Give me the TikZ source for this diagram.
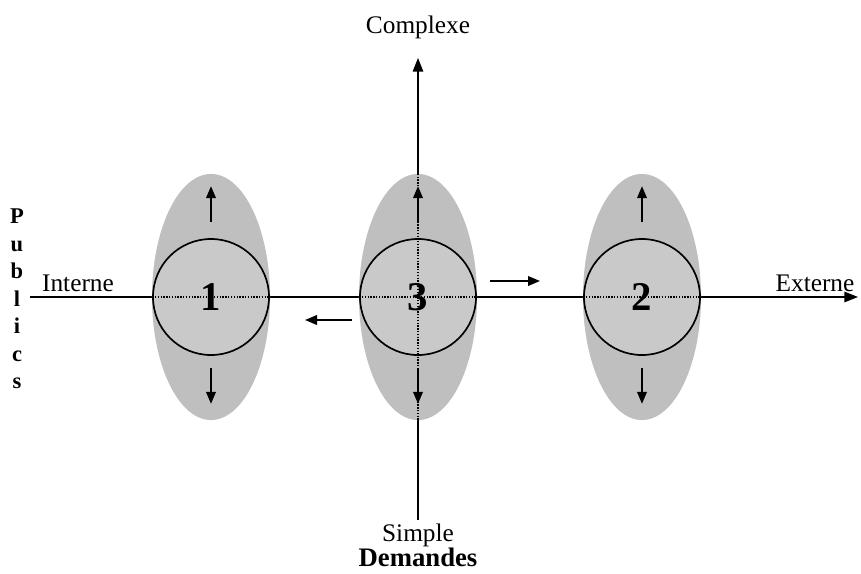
\documentclass[tikz,border=0pt]{standalone}
\usepackage{fontspec}
\setmainfont{Liberation Serif}
\usetikzlibrary{arrows.meta, shapes.geometric}

\begin{document}
\begin{tikzpicture}[
    x=0.025cm, y=-0.025cm,
    zone/.style={ellipse, fill=gray!50, minimum width=2.95cm, minimum height=6.15cm, inner sep=0pt},
    core/.style={circle, draw, line width=1.2pt, fill=gray!42, minimum size=2.9cm, inner sep=0pt},
    digit/.style={font=\fontsize{29}{30}\selectfont\bfseries},
    axis/.style={-{Triangle[length=3.4mm, width=2.6mm]}, line width=1pt},
    dots/.style={densely dotted, line width=1pt},
    move/.style={-{Triangle[length=3mm, width=2.4mm]}, line width=1.3pt},
    every node/.style={font=\fontsize{18}{20}\selectfont}
]
\useasboundingbox (0,0) rectangle (861,573);

% Axes
\coordinate (west) at (30,297);
\coordinate (east) at (858,297);
\coordinate (south) at (418,520);
\coordinate (north) at (418,58);
\draw[axis] (west) -- (east);
\draw[axis] (south) -- (north);

% Zones
\node[zone] (z1) at (211,297) {};
\node[zone] (z3) at (418,297) {};
\node[zone] (z2) at (642,297) {};

\draw[dots] (z3.north) -- (z3.south);

\node[core] (c1) at (z1) {};
\node[core] (c3) at (z3) {};
\node[core] (c2) at (z2) {};

\draw[dots] (c1.west) -- (c1.east);
\draw[dots] (c3.west) -- (c3.east);
\draw[dots] (c2.west) -- (c2.east);
\draw[dots] (c3.north) -- (c3.south);

\node[digit] (n1) at (c1) {1};
\node[digit] (n3) at (c3) {3};
\node[digit] (n2) at (c2) {2};

% Spread arrows
\foreach \z in {1,3,2} {
  \draw[move] (c\z.north) ++(0,-16) coordinate (up\z) -- ++(0,-36);
  \draw[move] (c\z.south) ++(0,12) coordinate (dn\z) -- ++(0,36);
}

% Shift arrows
\coordinate (rgt) at (490,281);
\coordinate (lft) at (352,320);
\draw[move] (rgt) -- ++(50,0);
\draw[move] (lft) -- ++(-47,0);

% Labels
\node (complexe) at (418,27) {Complexe};
\node[anchor=base, inner sep=0pt] (simple) at (418,541) {Simple};
\node[anchor=base, inner sep=0pt, font=\fontsize{19}{20}\selectfont\bfseries] (demandes) at (418,566) {Demandes};
\node (interne) at (78,283) {Interne};
\node (externe) at (815,283) {Externe};
\node[align=center, inner sep=0pt, font=\fontsize{16}{19.5}\selectfont\bfseries] (publics) at (17,299)
  {P\\u\\b\\l\\i\\c\\s};

\end{tikzpicture}
\end{document}
